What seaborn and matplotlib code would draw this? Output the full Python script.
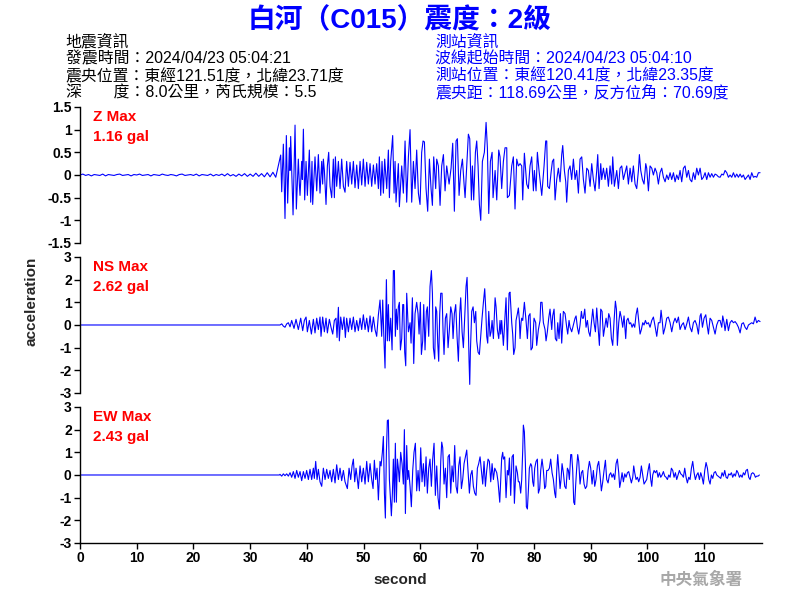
import numpy as np
import pandas as pd
import matplotlib
matplotlib.use("Agg")
import matplotlib.pyplot as plt
import seaborn as sns

sns.set_theme(style="ticks")
plt.rcParams["font.family"] = ["Liberation Sans", "Noto Sans CJK TC", "DejaVu Sans"]
plt.rcParams["axes.unicode_minus"] = False
plt.rcParams["axes.edgecolor"] = "black"
plt.rcParams["xtick.color"] = "black"
plt.rcParams["ytick.color"] = "black"

# ---------------- data ----------------
TITLE = "白河（C015）震度：2級"
EQ_INFO = ["地震資訊", "發震時間：2024/04/23 05:04:21",
           "震央位置：東經121.51度，北緯23.71度", "深\u3000\u3000度：8.0公里，芮氏規模：5.5"]
ST_INFO = ["測站資訊", "波線起始時間：2024/04/23 05:04:10",
           "測站位置：東經120.41度，北緯23.35度", "震央距：118.69公里，反方位角：70.69度"]
COMPONENTS = ["Z", "NS", "EW"]
PGA = ["1.16", "2.62", "2.43"]
X_TICKS = [0, 10, 20, 30, 40, 50, 60, 70, 80, 90, 100, 110]
Z_TICKS = [-1.5, -1, -0.5, 0, 0.5, 1, 1.5]
Z_TICK_LABELS = ["-1.5", "-1", "-0.5", "0", "0.5", "1", "1.5"]
H_TICKS = [-3, -2, -1, 0, 1, 2, 3]
H_TICK_LABELS = ["-3", "-2", "-1", "0", "1", "2", "3"]

# Z component: pre-event noise sampled every 0.5 s from 0 s
z_pre_acc = [0.00, 0.02, -0.01, 0.01, -0.02, 0.01, 0.00, -0.01, 0.02, -0.02,
             0.01, 0.00, -0.01, 0.01, 0.02, -0.01, 0.00, 0.01, -0.02, 0.01,
             0.00, 0.02, -0.01, 0.00, 0.01, -0.02, 0.01, 0.00, -0.01, 0.02,
             0.00, -0.01, 0.01, 0.00, -0.02, 0.01, 0.02, -0.01, 0.00, 0.01,
             -0.01, 0.02, -0.02, 0.01, 0.00, -0.01, 0.02, -0.02, 0.01, -0.01,
             0.02, -0.02, 0.03, -0.02, 0.01, -0.03, 0.02, -0.02, 0.03, -0.03,
             0.02, -0.03, 0.04, -0.03, 0.03, -0.04, 0.05, -0.04, 0.06, -0.05]

z_time = [35.37, 35.55, 35.84, 36.13, 36.37, 36.60, 36.90, 37.02, 37.13, 37.55,
          37.90, 38.13, 38.48, 38.66, 38.78, 39.07, 39.19, 39.37, 39.60, 39.84,
          40.07, 40.42, 40.66, 40.89, 41.01, 41.42, 41.72, 42.01, 42.30, 42.60,
          42.77, 42.89, 43.07, 43.36, 43.60, 43.83, 44.07, 44.36, 44.65, 44.83,
          45.01, 45.24, 45.54, 45.83, 46.12, 46.42, 46.71, 47.00, 47.30, 47.59,
          47.89, 48.18, 48.47, 48.77, 49.06, 49.36, 49.65, 49.94, 50.24, 50.53,
          50.82, 51.12, 51.41, 51.71, 52.00, 52.29, 52.59, 52.76, 53.00, 53.23,
          53.47, 53.70, 54.06, 54.35, 54.53, 54.76, 55.11, 55.35, 55.53, 55.70,
          56.11, 56.29, 56.70, 56.99, 57.29, 57.58, 57.88, 58.17, 58.46, 58.76,
          59.05, 59.34, 59.64, 59.93, 60.22, 60.46, 60.70, 60.99, 61.28, 61.58,
          61.87, 62.11, 62.34, 62.69, 62.87, 63.16, 63.46, 63.75, 64.05, 64.34,
          64.63, 65.05, 65.40, 65.69, 65.98, 66.28, 66.51, 66.81, 67.10, 67.40,
          67.69, 67.87, 68.16, 68.45, 68.69, 68.98, 69.16, 69.39, 69.69, 69.92,
          70.16, 70.39, 70.63, 70.92, 71.27, 71.57, 71.80, 72.04, 72.33, 72.63,
          72.80, 73.16, 73.45, 73.80, 74.03, 74.32, 74.62, 74.91, 75.21, 75.32,
          75.68, 76.09, 76.38, 76.67, 76.97, 77.26, 77.56, 77.85, 78.03, 78.32,
          78.73, 79.02, 79.32, 79.61, 79.91, 80.08, 80.38, 80.61, 80.90, 81.20,
          81.38, 81.79, 82.08, 82.26, 82.43, 82.73, 83.02, 83.26, 83.49, 83.73,
          84.02, 84.31, 84.61, 84.90, 85.08, 85.37, 85.61, 85.78, 86.08, 86.37,
          86.66, 86.96, 87.25, 87.54, 87.84, 88.13, 88.43, 88.72, 89.01, 89.31,
          89.60, 89.90, 90.19, 90.48, 90.78, 91.07, 91.25, 91.48, 91.78, 91.95,
          92.25, 92.54, 92.83, 93.13, 93.42, 93.71, 93.89, 94.18, 94.60, 94.89,
          95.18, 95.48, 95.77, 96.07, 96.36, 96.65, 96.95, 97.24, 97.53, 97.83,
          98.12, 98.42, 98.59, 98.83, 99.12, 99.41, 99.71, 99.88, 100.18, 100.47,
          100.77, 101.06, 101.35, 101.65, 101.94, 102.23, 102.53, 102.82, 103.12, 103.41,
          103.70, 104.00, 104.29, 104.59, 104.88, 105.17, 105.47, 105.76, 106.05, 106.35,
          106.64, 106.94, 107.23, 107.52, 107.82, 108.11, 108.40, 108.70, 108.99, 109.29,
          109.58, 109.87, 110.17, 110.46, 110.76, 111.05, 111.34, 111.64, 111.93, 112.22,
          112.52, 112.81, 113.11, 113.40, 113.69, 113.99, 114.28, 114.57, 114.87, 115.16,
          115.46, 115.75, 116.04, 116.34, 116.63, 116.92, 117.22, 117.51, 117.81, 118.10,
          118.39, 118.69, 118.98, 119.27, 119.57, 119.86]
z_acc = [0.44, -0.37, 0.68, -0.96, 0.87, -0.62, 0.60, 0.10, 0.85, -0.88,
         1.10, -0.75, 0.35, -0.20, -0.45, 0.30, -0.10, 1.01, -0.55, 0.30,
         -0.45, 0.55, -0.60, 0.30, -0.65, 0.40, -0.35, 0.45, -0.40, 0.30,
         -0.20, 0.35, 0.10, -0.65, 0.20, 0.50, -0.25, -0.50, 0.35, -0.50,
         0.40, -0.25, 0.30, -0.30, 0.35, -0.25, -0.38, 0.30, -0.25, 0.28,
         -0.20, 0.30, -0.28, 0.22, -0.30, 0.30, -0.22, 0.35, -0.25, 0.28,
         -0.20, 0.25, -0.25, 0.22, -0.20, 0.25, -0.30, 0.40, -0.45, 0.30,
         -0.40, 0.35, -0.30, 0.55, -0.50, 0.30, 0.87, -0.40, 0.30, -0.60,
         0.25, -0.70, 0.20, -0.40, 0.75, -0.60, 0.40, 1.00, -0.60, 0.30,
         -0.30, 0.55, -0.40, -0.65, 0.50, 0.75, 0.73, -0.30, -0.80, 0.35,
         -0.30, -0.67, 0.40, -0.30, 0.35, 0.20, -0.67, 0.20, 0.45, -0.35,
         0.20, -0.20, 0.15, 0.70, -0.80, 0.75, 0.80, -0.45, 0.10, 0.35,
         -0.20, -0.50, 0.20, 0.90, 0.80, -0.55, 0.20, -0.55, 0.50, 0.75,
         0.20, -0.65, -1.00, 0.30, 0.50, 1.16, 0.60, -0.85, 0.30, 0.50,
         -0.50, 0.10, -0.55, 0.55, 0.40, -0.30, 0.30, 0.60, 0.60, -0.50,
         -0.45, 0.20, 0.40, -0.75, 0.35, 0.20, 0.25, 0.20, -0.55, 0.48,
         -0.20, -0.30, 0.20, 0.40, -0.35, 0.10, -0.35, 0.50, 0.10, -0.25,
         -0.45, 0.20, 0.75, 0.75, -0.25, -0.30, 0.05, 0.30, 0.35, -0.55,
         -0.10, 0.15, -0.15, 0.45, 0.65, 0.10, -0.15, -0.60, 0.10, 0.20,
         -0.10, 0.35, -0.10, 0.10, -0.40, 0.35, 0.40, -0.10, -0.40, 0.15,
         0.10, -0.25, 0.25, -0.10, -0.35, 0.10, 0.45, -0.30, 0.25, -0.10,
         0.15, -0.10, 0.15, -0.25, 0.20, -0.20, 0.40, -0.25, 0.10, -0.30,
         0.15, 0.20, -0.10, 0.05, 0.20, -0.20, 0.15, -0.15, 0.20, -0.20,
         -0.30, 0.10, 0.45, 0.10, -0.10, -0.20, 0.25, 0.15, -0.35, 0.20,
         0.15, 0.00, 0.15, 0.05, -0.20, 0.05, 0.15, -0.05, -0.15, 0.00,
         -0.10, 0.05, -0.10, 0.05, -0.15, 0.00, -0.10, 0.10, -0.15, 0.15,
         0.20, -0.05, 0.10, -0.10, -0.15, 0.05, -0.10, 0.15, 0.00, 0.15,
         -0.10, -0.05, 0.05, -0.10, 0.05, -0.05, 0.03, -0.05, 0.02, 0.00,
         -0.04, -0.05, 0.02, 0.00, 0.10, 0.05, -0.05, 0.00, -0.05, 0.05,
         -0.05, 0.02, -0.05, 0.02, -0.05, 0.00, -0.10, -0.05, 0.00, -0.10,
         0.05, -0.05, -0.03, -0.05, 0.05, 0.05]

ns_time = [0.00, 35.25,
           35.55, 35.84, 36.13, 36.43, 36.72, 37.02, 37.31, 37.72, 38.07, 38.48,
           38.90, 39.25, 39.54, 39.84, 40.07, 40.42, 40.78, 41.13, 41.42, 41.72,
           42.01, 42.30, 42.48, 42.77, 43.07, 43.36, 43.60, 43.95, 44.24, 44.54,
           44.83, 45.12, 45.30, 45.54, 45.71, 45.95, 46.24, 46.53, 46.77, 47.00,
           47.30, 47.59, 47.89, 48.18, 48.47, 48.77, 49.06, 49.36, 49.65, 49.94,
           50.24, 50.53, 50.82, 51.12, 51.41, 51.71, 52.00, 52.29, 52.59, 52.88,
           53.17, 53.35, 53.59, 53.76, 54.00, 54.17, 54.35, 54.53, 54.76, 55.00,
           55.23, 55.41, 55.58, 55.76, 55.94, 56.11, 56.29, 56.47, 56.70, 56.88,
           57.05, 57.23, 57.41, 57.58, 57.88, 58.17, 58.35, 58.58, 58.82, 59.05,
           59.34, 59.58, 59.76, 59.99, 60.17, 60.40, 60.58, 60.81, 61.05, 61.22,
           61.46, 61.69, 61.93, 62.11, 62.28, 62.52, 62.69, 62.87, 63.05, 63.22,
           63.40, 63.58, 63.81, 63.99, 64.16, 64.40, 64.63, 64.87, 65.10, 65.34,
           65.57, 65.75, 65.98, 66.22, 66.45, 66.69, 66.92, 67.10, 67.34, 67.57,
           67.81, 68.04, 68.22, 68.39, 68.57, 68.69, 68.80, 69.04, 69.28, 69.51,
           69.75, 69.92, 70.16, 70.39, 70.63, 70.86, 71.10, 71.33, 71.51, 71.68,
           71.86, 72.04, 72.27, 72.45, 72.63, 72.86, 73.16, 73.33, 73.56, 73.80,
           74.03, 74.15, 74.32, 74.62, 74.91, 75.09, 75.32, 75.62, 75.79, 76.09,
           76.26, 76.44, 76.67, 76.85, 77.09, 77.26, 77.44, 77.56, 77.73, 77.85,
           78.03, 78.32, 78.61, 78.85, 79.08, 79.32, 79.49, 79.73, 80.02, 80.32,
           80.49, 80.79, 81.08, 81.20, 81.43, 81.67, 81.96, 82.14, 82.37, 82.61,
           82.84, 83.14, 83.31, 83.55, 83.78, 84.02, 84.20, 84.43, 84.67, 84.90,
           85.19, 85.49, 85.78, 85.96, 86.19, 86.37, 86.66, 86.96, 87.25, 87.43,
           87.66, 87.90, 88.13, 88.37, 88.54, 88.72, 88.96, 89.19, 89.43, 89.66,
           89.90, 90.13, 90.37, 90.60, 90.84, 91.07, 91.31, 91.54, 91.78, 92.01,
           92.25, 92.48, 92.72, 92.95, 93.19, 93.42, 93.66, 93.89, 94.13, 94.36,
           94.54, 94.71, 94.95, 95.18, 95.42, 95.65, 95.89, 96.18, 96.36, 96.59,
           96.83, 97.06, 97.30, 97.53, 97.77, 98.00, 98.24, 98.47, 98.71, 98.94,
           99.18, 99.41, 99.65, 99.88, 100.18, 100.47, 100.77, 101.06, 101.35, 101.65,
           101.94, 102.23, 102.41, 102.65, 102.82, 103.12, 103.41, 103.70, 104.00, 104.29,
           104.59, 104.88, 105.17, 105.47, 105.76, 106.05, 106.35, 106.64, 106.94, 107.23,
           107.52, 107.82, 108.11, 108.40, 108.70, 108.99, 109.29, 109.46, 109.70, 109.99,
           110.29, 110.46, 110.76, 111.05, 111.34, 111.64, 111.93, 112.22, 112.52, 112.81,
           113.11, 113.28, 113.52, 113.69, 113.99, 114.28, 114.57, 114.87, 115.16, 115.46,
           115.75, 116.04, 116.34, 116.63, 116.92, 117.22, 117.51, 117.81, 118.10, 118.39,
           118.69, 118.98, 119.27, 119.57, 119.86]
ns_acc = [0.00, 0.00,
          0.05, -0.05, -0.10, 0.05, 0.10, -0.08, 0.20, -0.15, 0.25, -0.20,
          0.30, -0.25, 0.20, 0.35, -0.30, 0.20, -0.40, 0.25, -0.35, 0.30,
          -0.20, 0.35, -0.50, 0.35, -0.30, 0.30, -0.35, 0.25, -0.10, -0.40,
          0.20, 0.30, -0.55, 0.78, -0.70, 0.35, -0.20, 0.35, -0.55, 0.30,
          -0.30, 0.30, -0.20, 0.35, -0.30, 0.20, -0.25, 0.30, -0.20, 0.45,
          -0.20, 0.30, -0.30, 0.40, -0.30, 0.35, -0.20, -0.50, 0.45, 1.10,
          -0.50, 1.10, -0.80, -1.90, 2.00, -0.70, 0.90, -0.70, 0.30, -1.10,
          2.40, 2.40, -0.50, 0.70, -0.20, 0.80, 1.00, -1.10, -0.60, 0.90,
          0.90, -1.20, -1.80, 1.40, -0.30, 0.10, -0.80, 1.20, -1.70, 0.50,
          1.00, 0.50, -0.40, 1.00, -1.30, -0.70, 0.90, -1.10, 0.60, 0.80,
          -0.50, 1.70, 2.40, 1.40, -1.00, -1.50, 0.80, 0.60, -0.80, -1.60,
          0.50, 1.40, 1.40, -0.30, -1.30, 0.30, 0.50, -1.00, -0.20, 0.80,
          0.50, -0.60, 0.50, 0.90, -0.50, -1.60, 0.50, 1.20, -0.30, -1.00,
          0.40, 1.70, 2.10, 0.50, -1.60, -2.62, -1.20, 0.60, 0.80, 0.10,
          0.60, -0.70, -1.20, -1.30, -0.50, 0.30, 1.00, 1.60, 0.70, -0.50,
          -0.80, 0.60, -0.50, -0.30, 0.20, -0.60, 1.20, 0.80, -0.20, -0.60,
          0.20, -0.40, 0.20, -0.90, 0.40, 1.20, -1.10, 1.40, 1.45, 0.10,
          -0.40, -1.30, -1.00, 0.20, 0.50, 0.75, 0.20, -0.60, 0.10, 0.30,
          0.20, 1.00, 0.20, -0.60, 0.40, 0.50, -1.10, -1.00, 0.30, 0.10,
          -0.90, -0.20, 0.20, 1.00, 1.00, 0.10, -0.20, -0.70, -0.30, 0.30,
          0.70, -0.20, 0.40, 0.70, -0.60, -0.70, 0.10, -0.60, 0.50, -0.80,
          0.60, 0.50, -0.10, -0.40, 0.20, -0.10, -0.30, 0.00, 0.30, 0.40,
          -0.10, -0.40, 0.00, 0.60, 0.30, 0.30, 0.70, -0.10, 0.20, -0.30,
          -0.50, 0.10, 0.70, 0.10, -0.30, 0.75, -0.10, -0.90, 0.70, 0.60,
          -0.50, -0.10, 0.30, -0.10, 0.50, 0.30, -0.60, -0.90, 0.20, 1.05,
          0.70, -0.90, 0.10, 0.60, 0.30, -0.10, 0.40, -0.60, 0.20, 0.30,
          0.05, 0.10, -0.10, 0.05, -0.10, 0.45, 0.75, 0.20, -0.40, -0.20,
          0.10, 0.00, 0.20, 0.05, 0.10, -0.10, 0.20, 0.35, -0.05, -0.50,
          0.10, 0.10, 0.65, 0.10, -0.40, -0.10, 0.30, 0.35, 0.10, -0.30,
          0.10, 0.30, 0.10, 0.35, -0.20, 0.00, 0.10, -0.20, 0.05, 0.35,
          -0.10, -0.30, 0.10, 0.20, 0.00, -0.40, 0.40, 0.50, -0.10, 0.30,
          0.45, 0.10, -0.40, 0.30, 0.20, -0.10, -0.40, 0.00, 0.20, 0.20,
          -0.10, 0.40, 0.10, -0.25, 0.25, -0.25, 0.10, 0.20, 0.10, 0.15,
          0.05, -0.10, -0.35, 0.05, 0.10, -0.10, -0.20, 0.00, 0.05, 0.10,
          0.05, 0.35, 0.10, 0.20, 0.15]

ew_time = [0.00, 35.14,
           35.25, 35.55, 35.84, 36.13, 36.43, 36.72, 37.02, 37.31, 37.60, 37.90,
           38.19, 38.48, 38.78, 39.07, 39.37, 39.66, 39.95, 40.25, 40.54, 40.83,
           41.13, 41.30, 41.54, 41.78, 42.01, 42.30, 42.60, 42.89, 43.19, 43.48,
           43.77, 44.07, 44.36, 44.65, 44.95, 45.24, 45.54, 45.83, 46.12, 46.42,
           46.71, 47.12, 47.42, 47.71, 47.95, 48.18, 48.42, 48.65, 48.89, 49.06,
           49.36, 49.65, 49.94, 50.24, 50.53, 50.82, 51.12, 51.41, 51.65, 51.88,
           52.12, 52.35, 52.59, 52.88, 53.06, 53.29, 53.47, 53.65, 53.82, 54.00,
           54.17, 54.35, 54.53, 54.70, 54.88, 55.06, 55.23, 55.41, 55.58, 55.76,
           55.94, 56.11, 56.29, 56.52, 56.76, 56.99, 57.17, 57.35, 57.58, 57.76,
           57.93, 58.17, 58.40, 58.64, 58.87, 59.11, 59.34, 59.58, 59.81, 60.05,
           60.28, 60.52, 60.75, 60.99, 61.22, 61.46, 61.69, 61.93, 62.16, 62.40,
           62.63, 62.87, 63.10, 63.34, 63.58, 63.75, 63.93, 64.16, 64.40, 64.63,
           64.87, 65.10, 65.34, 65.57, 65.81, 66.04, 66.28, 66.51, 66.75, 66.98,
           67.22, 67.45, 67.69, 67.92, 68.16, 68.39, 68.63, 68.86, 69.10, 69.33,
           69.57, 69.80, 70.04, 70.27, 70.51, 70.74, 70.98, 71.21, 71.45, 71.68,
           71.92, 72.15, 72.39, 72.63, 72.86, 73.10, 73.45, 73.68, 73.98, 74.32,
           74.50, 74.62, 74.85, 75.09, 75.32, 75.50, 75.68, 75.91, 76.15, 76.38,
           76.56, 76.85, 77.09, 77.26, 77.44, 77.67, 77.85, 78.03, 78.14, 78.32,
           78.50, 78.67, 78.85, 79.02, 79.20, 79.44, 79.61, 79.79, 79.96, 80.14,
           80.38, 80.61, 80.79, 81.02, 81.20, 81.43, 81.67, 81.90, 82.08, 82.26,
           82.49, 82.73, 82.96, 83.20, 83.43, 83.67, 83.84, 84.02, 84.20, 84.37,
           84.61, 84.78, 84.96, 85.19, 85.43, 85.66, 85.90, 86.08, 86.25, 86.49,
           86.66, 86.84, 87.02, 87.19, 87.37, 87.54, 87.72, 87.90, 88.13, 88.37,
           88.60, 88.84, 89.07, 89.31, 89.54, 89.78, 90.01, 90.25, 90.48, 90.72,
           90.95, 91.19, 91.42, 91.66, 91.89, 92.13, 92.36, 92.60, 92.83, 93.07,
           93.30, 93.54, 93.77, 94.01, 94.24, 94.48, 94.71, 94.95, 95.12, 95.30,
           95.54, 95.77, 96.01, 96.24, 96.48, 96.71, 96.95, 97.18, 97.42, 97.59,
           97.77, 98.00, 98.24, 98.47, 98.71, 98.94, 99.18, 99.41, 99.65, 99.88,
           100.12, 100.35, 100.59, 100.77, 100.94, 101.18, 101.41, 101.65, 101.88, 102.12,
           102.35, 102.59, 102.82, 103.06, 103.29, 103.53, 103.76, 104.00, 104.23, 104.47,
           104.70, 104.94, 105.17, 105.41, 105.64, 105.88, 106.11, 106.35, 106.58, 106.82,
           107.05, 107.29, 107.52, 107.76, 107.99, 108.23, 108.46, 108.70, 108.93, 109.17,
           109.40, 109.64, 109.87, 110.11, 110.34, 110.58, 110.81, 111.05, 111.28, 111.52,
           111.75, 111.99, 112.22, 112.46, 112.69, 112.93, 113.16, 113.40, 113.63, 113.87,
           114.10, 114.34, 114.57, 114.81, 115.04, 115.28, 115.51, 115.75, 115.98, 116.22,
           116.46, 116.69, 116.92, 117.16, 117.39, 117.63, 117.86, 118.10, 118.33, 118.57,
           118.80, 119.04, 119.27, 119.51, 119.74]
ew_acc = [0.00, 0.00,
          0.03, -0.05, 0.05, -0.03, 0.05, -0.05, 0.10, -0.10, 0.15, -0.15,
          0.20, -0.10, 0.15, -0.25, 0.15, -0.15, 0.20, -0.20, 0.25, -0.20,
          0.30, -0.15, 0.60, -0.20, 0.25, -0.30, -0.50, 0.30, -0.20, 0.25,
          -0.15, 0.20, -0.30, 0.25, -0.35, 0.45, -0.20, 0.30, -0.25, 0.20,
          -0.30, -0.60, 0.30, -0.20, 0.40, 0.70, -0.30, 0.30, -0.20, -0.60,
          0.40, -0.30, 0.30, -0.40, 0.60, -0.30, 0.50, -0.20, -0.60, 0.65,
          -0.20, 0.30, -1.10, 0.60, 0.40, 1.00, 1.70, -0.80, -1.90, 1.00,
          2.40, 2.43, -0.20, -1.00, -1.80, -0.80, 0.70, -1.20, 1.40, -1.20,
          0.70, 0.30, -0.30, 1.00, 0.50, -0.40, 2.00, -1.70, 1.30, -0.20,
          0.20, -0.50, -1.40, 0.20, 1.00, 1.40, -0.70, 0.20, -0.70, 1.20,
          -0.30, 0.50, -0.50, 0.80, -0.80, 0.30, 0.70, -0.50, 0.70, 1.40,
          -0.90, 0.40, -1.00, -1.50, 0.60, 1.45, 1.20, -0.40, 0.30, -1.00,
          0.80, 0.90, -0.80, 0.40, -0.30, 1.30, -0.50, -0.80, 0.40, 0.80,
          -0.60, -0.20, 0.50, 0.80, 1.10, 0.20, -0.80, 0.00, 0.20, -0.50,
          -0.80, -0.90, 0.30, 0.50, 0.80, 0.20, -0.40, 0.60, -0.50, 0.20,
          0.70, 0.60, -0.30, 0.50, -0.20, 0.30, 0.10, -0.30, -1.20, 0.75,
          1.00, 0.70, 0.80, -1.00, 0.20, 0.00, 0.75, -0.90, 0.80, 0.90,
          -1.25, 0.40, 0.10, -0.30, -0.30, -0.80, -0.20, 1.10, 2.20, 1.90,
          0.50, -1.40, -1.50, -0.70, 0.30, 0.50, 0.40, -0.30, -0.50, 0.30,
          0.60, 0.70, -0.80, -0.60, 0.20, 0.70, 0.20, -0.60, -0.50, 0.20,
          0.20, 0.30, 0.70, 0.10, -0.20, -0.80, -1.00, 0.20, 0.90, 0.30,
          -0.60, -0.20, 0.50, 0.10, -0.50, -0.60, 0.30, 0.20, -0.20, 0.90,
          0.90, 0.20, -1.20, -1.30, -0.40, 0.30, 0.90, 0.60, -0.40, 0.10,
          0.20, -0.40, -0.60, -0.50, 0.20, 0.60, 0.30, -0.40, 0.20, -0.50,
          -0.20, 0.40, 0.60, 0.00, -0.70, -0.30, 0.20, 0.65, -0.20, -0.35,
          0.00, 0.10, -0.10, 0.05, -0.20, 0.50, 0.70, 0.10, -0.55, -0.30,
          0.10, -0.30, 0.05, -0.10, 0.10, 0.15, -0.10, -0.35, -0.10, 0.40,
          0.10, -0.20, -0.10, -0.30, -0.10, 0.40, 0.00, -0.40, -0.30, -0.20,
          0.20, 0.50, -0.20, -0.50, 0.00, 0.20, 0.10, 0.20, -0.10, 0.10,
          -0.10, 0.00, 0.15, -0.05, -0.10, -0.20, 0.00, -0.10, 0.30, 0.20,
          -0.10, 0.10, -0.20, 0.00, 0.20, 0.05, 0.00, -0.10, 0.30, -0.10,
          -0.35, -0.10, -0.20, 0.30, 0.60, 0.10, -0.20, 0.00, 0.10, -0.20,
          0.10, -0.10, -0.40, 0.20, 0.55, 0.30, -0.20, -0.40, 0.00, -0.15,
          0.10, 0.15, 0.00, -0.05, -0.10, -0.15, 0.10, -0.05, 0.20, -0.10,
          -0.15, 0.05, 0.00, 0.10, -0.10, 0.05, -0.05, 0.20, 0.10, -0.10,
          0.00, -0.10, 0.10, 0.00, 0.20, 0.25, -0.10, -0.20, 0.05, 0.10,
          0.05, -0.10, -0.05, -0.05, 0.00]

assert len(z_time) == len(z_acc), (len(z_time), len(z_acc))
assert len(ns_time) == len(ns_acc), (len(ns_time), len(ns_acc))
assert len(ew_time) == len(ew_acc), (len(ew_time), len(ew_acc))

z_pre_time = list(np.arange(len(z_pre_acc)) * 0.5)
traces = [
    (z_pre_time + z_time, z_pre_acc + z_acc),
    (ns_time, ns_acc),
    (ew_time, ew_acc),
]

# ---------------- figure ----------------
BLUE = "#0000FF"
RED = "#FF0000"
fig = plt.figure(figsize=(8, 6), dpi=100)
fig.patch.set_facecolor("white")

panel_pos = [[0.100, 0.595, 0.8525, 0.2267],
             [0.100, 0.345, 0.8525, 0.2267],
             [0.100, 0.095, 0.8525, 0.2267]]
ylims = [(-1.5, 1.5), (-3, 3), (-3, 3)]
yticks = [(Z_TICKS, Z_TICK_LABELS), (H_TICKS, H_TICK_LABELS), (H_TICKS, H_TICK_LABELS)]

for i, (pos, (t, a)) in enumerate(zip(panel_pos, traces)):
    ax = fig.add_axes(pos)
    ax.set_facecolor("white")
    df = pd.DataFrame({"second": t, "acceleration": a})
    sns.lineplot(data=df, x="second", y="acceleration", ax=ax, color=BLUE,
                 linewidth=0.8, estimator=None, sort=False)
    ax.set_xlim(0, 120.2)
    ax.set_ylim(*ylims[i])
    ax.set_yticks(yticks[i][0])
    ax.set_yticklabels(yticks[i][1], fontsize=10, fontweight="bold")
    ax.set_xlabel("")
    ax.set_ylabel("")
    ax.grid(False)
    for s in ["top", "right"]:
        ax.spines[s].set_visible(False)
    ax.spines["left"].set_linewidth(1.0)
    ax.tick_params(axis="y", length=4, width=1.0, pad=2, direction="out")
    if i < 2:
        ax.spines["bottom"].set_visible(False)
        ax.tick_params(axis="x", bottom=False, labelbottom=False)
    else:
        ax.spines["bottom"].set_linewidth(1.0)
        ax.set_xticks(X_TICKS)
        ax.set_xticklabels([str(v) for v in X_TICKS], fontsize=10, fontweight="bold")
        ax.tick_params(axis="x", length=4, width=1.0, pad=2, direction="out")
    ax.text(0.019, 0.925, f"{COMPONENTS[i]} Max", transform=ax.transAxes,
            color=RED, fontsize=11, fontweight="bold", va="center", ha="left")
    ax.text(0.019, 0.78, f"{PGA[i]} gal", transform=ax.transAxes,
            color=RED, fontsize=11, fontweight="bold", va="center", ha="left")

fig.text(0.04, 0.497, "acceleration", rotation=90, fontsize=11, fontweight="bold",
         ha="center", va="center")
fig.text(0.5, 0.033, "second", fontsize=11, fontweight="bold", ha="center", va="center")

fig.text(0.5, 0.965, TITLE, color=BLUE, fontsize=20, fontweight="bold",
         ha="center", va="center")

line_y = [0.930, 0.9015, 0.873, 0.8445]
for txt, y in zip(EQ_INFO, line_y):
    fig.text(0.082, y, txt, color="black", fontsize=11.4,
             ha="left", va="center")
for txt, y in zip(ST_INFO, line_y):
    fig.text(0.544, y, txt, color=BLUE, fontsize=11.4,
             ha="left", va="center")

fig.text(0.876, 0.033, "中央氣象署", color="#A8A8A8", fontsize=12, fontweight="bold",
         ha="center", va="center")

fig.savefig("out.png", dpi=100, facecolor="white")
